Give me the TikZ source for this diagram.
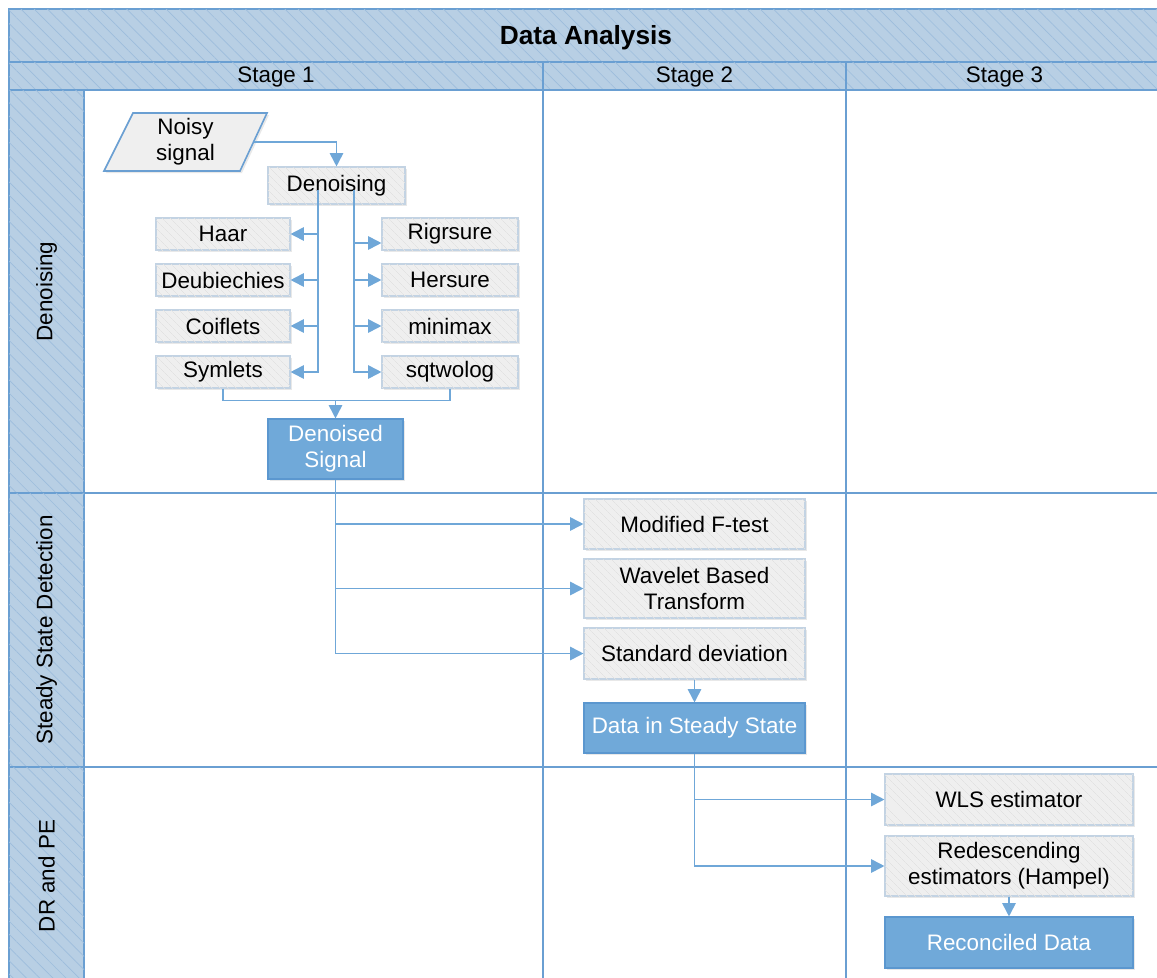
\documentclass[tikz,border=0pt]{standalone}
\usepackage{fontspec}
\setmainfont{Liberation Sans}
\usetikzlibrary{arrows.meta,patterns.meta,shadows,calc}
\definecolor{lane}{HTML}{B8CFE4}
\definecolor{hatch}{HTML}{9DBDDC}
\definecolor{edge}{HTML}{6A9FD2}
\definecolor{conn}{HTML}{6FA7D8}
\definecolor{boxfill}{HTML}{EFEFEF}
\definecolor{boxhatch}{HTML}{E2E2E2}
\definecolor{boxedge}{HTML}{C3D3E3}
\definecolor{bluefill}{HTML}{70A9D9}
\definecolor{blueedge}{HTML}{5B97CF}
\begin{document}
\begin{tikzpicture}[x=0.75pt,y=-0.75pt,
  font=\fontsize{16.8}{19.5}\selectfont,
  band/.style={draw=edge, line width=1pt, fill=lane,
    postaction={pattern={Lines[angle=-45,distance=7pt,line width=0.5pt]}, pattern color=hatch}},
  sz/.style 2 args={minimum width=#1*0.75pt, minimum height=#2*0.75pt},
  gbox/.style={draw=boxedge, line width=0.8pt, fill=boxfill, inner sep=0pt, align=center,
    drop shadow={shadow xshift=1.5pt, shadow yshift=-1.5pt, opacity=0.18},
    postaction={pattern={Lines[angle=-45,distance=4pt,line width=0.4pt]}, pattern color=boxhatch}},
  bbox/.style={draw=blueedge, line width=0.8pt, fill=bluefill, text=white, inner sep=0pt, align=center,
    drop shadow={shadow xshift=1.5pt, shadow yshift=-1.5pt, opacity=0.18}},
  lnk/.style={draw=conn, line width=1.3pt},
  arr/.style={lnk, -{Triangle[length=10pt,width=10pt]}},
  grid/.style={draw=edge, line width=1pt}
]
\useasboundingbox (0,0) rectangle (1157,978);
% frame and lanes
\path[band] (9,9) rectangle (1163,62);
\path[band] (9,62) rectangle (1163,90);
\path[band] (9,90) rectangle (84,493);
\path[band] (9,493) rectangle (84,767);
\path[band] (9,767) rectangle (84,990);
\draw[grid] (84,90) -- (1163,90);
\draw[grid] (84,493) -- (1163,493);
\draw[grid] (84,767) -- (1163,767);
\draw[grid] (543,62) -- (543,990);
\draw[grid] (846,62) -- (846,990);
\draw[grid] (1163,9) -- (1163,990);
\node (title) at (586,38) {\fontsize{19.7}{22}\selectfont\bfseries Data Analysis};
\node (s1) at (276,77.5) {Stage 1};
\node (s2) at (694.5,77.5) {Stage 2};
\node (s3) at (1004.5,77.5) {Stage 3};
\node[rotate=90] (l1) at (46.5,291.5) {Denoising};
\node[rotate=90] (l2) at (46.5,630) {Steady State Detection};
\node[rotate=90] (l3) at (46.5,876) {DR and PE};
% noisy signal parallelogram
\path[draw=edge, line width=1.2pt, fill=boxfill,
  drop shadow={shadow xshift=1.5pt, shadow yshift=-1.5pt, opacity=0.18}]
  (133,113) -- (267,113) -- (240,171) -- (104,171) -- cycle;
\node[align=center] (noisy) at (185.5,142) {Noisy\\signal};
\coordinate (noisyR) at (253.5,142);
% stage 1 nodes
\node[gbox, sz={137}{37}] (den) at (336.5,185.5) {Denoising};
\node[gbox, sz={134}{32}] (haar) at (223,234) {Haar};
\node[gbox, sz={134}{32}] (deub) at (223,280) {Deubiechies};
\node[gbox, sz={134}{32}] (coif) at (223,326) {Coiflets};
\node[gbox, sz={134}{32}] (sym) at (223,372) {Symlets};
\node[gbox, sz={136}{32}] (rig) at (450,234) {Rigrsure};
\node[gbox, sz={136}{32}] (hers) at (450,280) {Hersure};
\node[gbox, sz={136}{32}] (mini) at (450,326) {minimax};
\node[gbox, sz={136}{32}] (sqt) at (450,372) {sqtwolog};
\node[bbox, sz={135}{60}] (dsig) at (335.5,449) {Denoised\\Signal};
% stage 2 nodes
\node[gbox, sz={221}{50}] (mft) at (694.5,524) {Modified F-test};
\node[gbox, sz={221}{59}] (wbt) at (694.5,588.5) {Wavelet Based\\Transform};
\node[gbox, sz={221}{51}] (std) at (694.5,653.5) {Standard deviation};
\node[bbox, sz={221}{50}] (dss) at (694.5,728) {Data in Steady State};
% stage 3 nodes
\node[gbox, sz={248}{51}] (wls) at (1009,799.5) {WLS estimator};
\node[gbox, sz={248}{60}] (red) at (1009,866) {Redescending\\estimators (Hampel)};
\node[bbox, sz={248}{51}] (rec) at (1009,942.5) {Reconciled Data};
% connectors
\draw[arr] (noisyR) -| (den.north);
\coordinate (lt) at ($(den.center)+(-18.5,4)$);
\coordinate (rt) at ($(den.center)+(17.5,4)$);
\draw[arr] (lt) |- (sym.east);
\draw[arr] (lt |- haar.east) -- (haar.east);
\draw[arr] (lt |- deub.east) -- (deub.east);
\draw[arr] (lt |- coif.east) -- (coif.east);
\draw[arr] (rt) |- (sqt.west);
\draw[arr] ($(rt |- rig.west)+(0,9)$) -- ($(rig.west)+(0,9)$);
\draw[arr] (rt |- hers.west) -- (hers.west);
\draw[arr] (rt |- mini.west) -- (mini.west);
\coordinate (mg) at ($(sym.south)+(0,12)$);
\draw[lnk] (sym.south) -- (mg) -| (sqt.south);
\draw[arr] (dsig.north |- mg) -- (dsig.north);
\draw[arr] (dsig.south) |- (std.west);
\draw[arr] (dsig.south |- mft.west) -- (mft.west);
\draw[arr] (dsig.south |- wbt.west) -- (wbt.west);
\draw[arr] (std.south) -- (dss.north);
\draw[arr] (dss.south) |- (red.west);
\draw[arr] (dss.south |- wls.west) -- (wls.west);
\draw[arr] (red.south) -- (rec.north);
\end{tikzpicture}
\end{document}
